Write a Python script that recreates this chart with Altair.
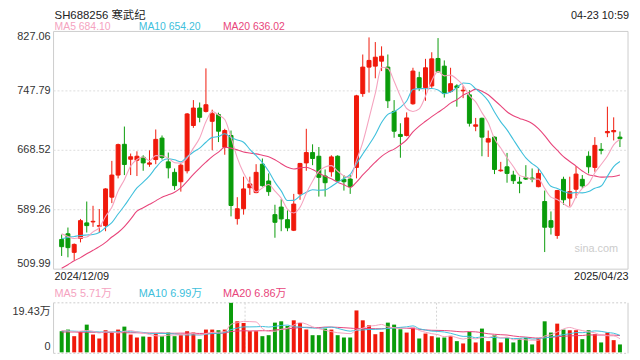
import altair as alt
import pandas as pd

# ---------------- data ----------------
opens = [549.6, 557.2, 532.4, 550.9, 571.7, 573.0, 567.2, 568.1, 606.0, 635.5,
         676.5, 656.6, 655.3, 659.3, 650.0, 656.2, 684.8, 653.1, 639.1, 626.6,
         641.2, 701.6, 724.9, 720.4, 707.2, 716.1, 672.5, 688.3, 577.4, 590.6,
         618.7, 612.1, 650.0, 627.6, 582.7, 592.8, 576.0, 561.9, 610.4, 651.7,
         665.5, 660.6, 634.2, 639.9, 660.6, 629.8, 630.2, 645.7, 744.2, 779.5,
         780.8, 787.4, 779.5, 720.4, 689.7, 688.3, 730.6, 765.4, 752.2, 754.4,
         791.0, 780.8, 746.9, 754.4, 747.8, 742.5, 700.6, 711.2, 679.5, 686.1,
         641.2, 646.5, 635.5, 626.2, 631.9, 631.5, 620.0, 600.2, 574.7, 554.9,
         629.8, 604.7, 616.6, 629.8, 660.6, 645.7, 669.8, 691.9, 693.2, 686.1]
highs = [556.2, 565.5, 544.3, 577.0, 600.2, 594.5, 590.2, 617.9, 654.4, 677.4,
         700.2, 664.2, 667.2, 661.9, 668.5, 696.3, 688.3, 665.5, 644.3, 651.0,
         718.3, 735.5, 732.3, 777.8, 722.7, 718.7, 697.2, 694.9, 606.0, 633.3,
         633.3, 650.0, 657.6, 637.7, 595.9, 603.4, 588.3, 610.4, 651.7, 697.2,
         676.5, 672.9, 643.0, 661.9, 661.9, 635.5, 635.5, 742.5, 796.3, 819.1,
         812.9, 807.2, 796.3, 735.5, 704.6, 719.1, 778.6, 773.3, 790.5, 799.3,
         818.2, 788.4, 778.6, 756.6, 754.4, 748.7, 711.7, 712.1, 694.9, 687.0,
         653.1, 665.0, 641.2, 633.3, 648.7, 644.3, 644.3, 614.8, 587.0, 615.7,
         633.3, 633.3, 647.4, 635.5, 667.2, 686.1, 678.2, 726.7, 712.5, 693.6]
lows = [527.6, 525.8, 522.3, 545.7, 558.9, 566.4, 558.5, 560.6, 598.1, 631.1,
        635.5, 635.5, 634.2, 641.2, 646.5, 650.0, 656.2, 631.1, 615.7, 613.4,
        637.7, 698.5, 705.9, 719.0, 668.5, 679.5, 662.6, 580.4, 569.4, 582.7,
        609.1, 611.3, 620.0, 607.8, 551.9, 560.6, 560.6, 560.8, 602.5, 641.2,
        648.7, 606.8, 606.8, 633.3, 626.6, 614.8, 610.4, 631.1, 739.9, 745.5,
        764.6, 774.2, 724.9, 685.3, 658.6, 687.0, 729.3, 747.8, 734.6, 751.8,
        772.0, 738.9, 745.5, 726.7, 738.1, 700.2, 694.0, 660.6, 659.7, 636.8,
        639.9, 625.3, 623.6, 611.3, 628.9, 625.9, 619.2, 532.8, 556.2, 550.5,
        595.9, 593.6, 604.7, 617.9, 637.7, 639.9, 663.2, 686.1, 681.7, 672.9]
closes = [540.0, 538.7, 543.0, 574.7, 568.1, 573.8, 568.1, 617.0, 635.5, 676.1,
          649.6, 659.9, 660.6, 651.7, 651.7, 683.1, 658.9, 645.1, 621.4, 648.7,
          717.0, 724.9, 712.5, 729.3, 717.4, 694.0, 694.9, 594.9, 590.6, 617.0,
          623.6, 639.1, 621.4, 613.4, 572.5, 577.0, 565.1, 596.8, 651.0, 665.5,
          657.6, 632.5, 625.3, 659.7, 628.0, 626.6, 620.0, 741.2, 779.5, 788.4,
          792.7, 794.0, 734.6, 694.0, 687.0, 711.7, 774.2, 752.2, 778.6, 790.5,
          773.3, 744.2, 757.4, 752.2, 748.7, 704.6, 702.5, 686.1, 684.0, 643.0,
          642.1, 637.7, 628.0, 624.5, 630.2, 630.2, 637.7, 565.9, 565.9, 614.8,
          602.5, 613.4, 636.8, 621.0, 646.5, 675.1, 668.5, 693.6, 694.9, 684.0]
volumes = [8.29, 8.94, 6.35, 8.29, 10.88, 6.99, 5.44, 8.68, 8.03, 8.94,
           10.10, 6.99, 5.83, 6.22, 6.09, 7.38, 6.35, 7.77, 6.35, 6.74,
           8.29, 7.77, 5.18, 8.94, 8.94, 8.68, 8.94, 19.43, 12.18, 11.53,
           8.29, 8.29, 6.35, 6.74, 11.66, 12.18, 10.36, 12.57, 11.53, 8.94,
           6.74, 6.74, 9.33, 8.94, 6.74, 5.83, 5.83, 16.45, 12.57, 10.62,
           7.12, 8.03, 11.66, 10.88, 9.07, 7.77, 9.72, 5.44, 7.38, 6.35,
           5.83, 5.83, 6.48, 4.40, 3.50, 8.03, 3.89, 9.33, 4.40, 6.74,
           3.89, 5.70, 3.89, 5.44, 5.70, 3.11, 5.70, 12.18, 7.77, 11.27,
           8.94, 8.68, 8.68, 5.18, 8.68, 7.12, 3.89, 7.77, 4.79, 3.11]
ma5 = [557.2, 553.6, 550.9, 552.0, 552.9, 559.7, 565.5, 580.3, 592.5, 614.1,
       629.3, 647.6, 656.3, 659.6, 654.7, 661.4, 661.2, 658.1, 652.0, 651.4,
       658.2, 671.4, 684.9, 706.5, 720.2, 715.6, 709.6, 686.1, 658.4, 638.3,
       624.2, 613.0, 618.3, 622.9, 614.0, 604.7, 589.9, 585.0, 592.5, 611.1,
       627.2, 640.7, 646.4, 648.1, 640.6, 634.4, 631.9, 655.1, 679.1, 711.1,
       744.4, 779.2, 777.8, 760.7, 740.5, 724.3, 720.3, 723.8, 740.7, 761.4,
       773.8, 767.8, 768.8, 763.5, 755.2, 741.4, 733.1, 718.8, 705.2, 684.0,
       671.5, 658.6, 647.0, 635.1, 632.5, 630.1, 630.1, 617.7, 606.0, 602.9,
       597.4, 592.5, 606.7, 617.7, 624.0, 638.6, 649.6, 660.9, 675.7, 683.2]
ma10 = [550.5, 552.3, 553.6, 554.9, 555.6, 556.2, 558.9, 565.5, 572.0, 583.5,
        594.5, 606.6, 618.3, 626.0, 634.4, 645.3, 654.4, 657.2, 655.8, 653.1,
        659.8, 666.3, 671.5, 679.3, 685.8, 686.9, 690.5, 685.5, 682.4, 679.3,
        669.9, 661.3, 652.2, 640.6, 626.1, 614.4, 601.5, 601.7, 607.7, 612.5,
        615.9, 615.3, 615.7, 620.3, 625.9, 630.8, 636.3, 650.7, 663.6, 675.9,
        689.4, 705.5, 716.5, 719.9, 725.8, 734.3, 749.7, 750.8, 750.7, 751.0,
        749.0, 744.0, 746.3, 752.1, 758.3, 757.6, 750.4, 743.8, 734.4, 719.6,
        706.5, 695.8, 682.9, 670.1, 658.3, 650.8, 644.4, 632.3, 620.5, 617.7,
        613.7, 611.3, 612.2, 611.8, 613.5, 618.0, 621.0, 633.8, 646.7, 653.6]
ma20 = [511.3, 515.9, 521.2, 525.4, 530.5, 535.1, 540.0, 545.7, 552.9, 558.9,
        566.8, 576.7, 587.3, 591.9, 596.5, 601.1, 606.0, 609.1, 612.6, 618.3,
        627.1, 636.5, 644.9, 652.7, 660.1, 666.1, 672.5, 671.4, 669.1, 666.2,
        664.9, 663.8, 661.9, 660.0, 656.0, 650.7, 646.0, 643.6, 645.1, 645.9,
        642.9, 638.3, 634.0, 630.5, 626.0, 622.6, 618.9, 626.2, 635.6, 644.2,
        652.7, 660.4, 666.1, 670.1, 675.8, 682.6, 693.0, 700.8, 707.2, 713.4,
        719.2, 724.8, 731.4, 736.0, 742.1, 746.0, 750.1, 747.3, 742.6, 735.3,
        727.8, 719.9, 714.6, 711.1, 708.3, 704.2, 697.4, 688.1, 677.4, 668.7,
        660.1, 653.6, 647.5, 641.0, 635.9, 634.4, 632.7, 633.1, 633.6, 635.7]
vma5 = [8.6, 8.4, 8.0, 8.3, 8.55, 8.29, 7.59, 8.06, 8.00, 7.62,
        8.24, 8.55, 7.98, 7.62, 7.05, 6.50, 6.37, 6.76, 6.79, 6.92,
        7.10, 7.38, 6.87, 7.38, 7.82, 7.90, 8.14, 10.99, 11.63, 12.15,
        12.07, 11.94, 9.33, 8.24, 8.27, 9.04, 9.46, 10.70, 11.66, 11.12,
        10.03, 9.30, 8.66, 8.14, 7.70, 7.52, 7.33, 8.76, 9.48, 10.26,
        10.52, 10.96, 10.00, 9.66, 9.35, 9.48, 9.82, 8.58, 7.88, 7.33,
        6.94, 6.17, 6.37, 5.78, 5.21, 5.65, 5.26, 5.83, 5.83, 6.48,
        5.65, 6.01, 4.92, 5.13, 4.92, 4.77, 4.77, 6.43, 6.89, 8.01,
        9.17, 9.77, 9.07, 8.55, 8.03, 7.67, 6.71, 6.53, 6.45, 5.34]
vma10 = [8.4, 8.4, 8.3, 8.2, 8.2, 8.1, 8.0, 8.0, 8.0, 8.08,
         8.26, 8.07, 8.02, 7.81, 7.33, 7.37, 7.46, 7.37, 7.20, 6.98,
         6.80, 6.88, 6.81, 7.09, 7.37, 7.50, 7.76, 8.93, 9.51, 9.99,
         9.99, 10.04, 10.16, 9.94, 10.21, 10.56, 10.70, 10.02, 9.95, 9.69,
         9.54, 9.38, 9.68, 9.90, 9.41, 8.77, 8.32, 8.71, 8.81, 8.98,
         9.02, 9.15, 9.38, 9.57, 9.81, 10.00, 10.39, 9.29, 8.77, 8.34,
         8.21, 7.99, 7.48, 6.83, 6.27, 6.30, 5.71, 6.10, 5.80, 5.84,
         5.65, 5.64, 5.38, 5.48, 5.70, 5.21, 5.39, 5.68, 6.01, 6.47,
         6.97, 7.27, 7.75, 7.72, 8.02, 8.42, 8.24, 7.80, 7.50, 6.68]
vma20 = [8.0, 8.0, 8.0, 7.9, 7.9, 7.9, 7.8, 7.8, 7.8, 7.8,
         7.7, 7.7, 7.7, 7.6, 7.6, 7.6, 7.6, 7.5, 7.5, 7.53,
         7.53, 7.47, 7.42, 7.45, 7.35, 7.44, 7.61, 8.15, 8.36, 8.49,
         8.39, 8.46, 8.49, 8.51, 8.79, 9.03, 9.23, 9.47, 9.73, 9.84,
         9.76, 9.71, 9.92, 9.92, 9.81, 9.67, 9.51, 9.36, 9.38, 9.34,
         9.28, 9.26, 9.53, 9.74, 9.61, 9.39, 9.35, 9.00, 8.79, 8.66,
         8.62, 8.57, 8.43, 8.20, 8.04, 8.15, 8.05, 7.70, 7.29, 7.09,
         6.93, 6.81, 6.43, 6.15, 5.99, 5.75, 5.55, 5.89, 5.91, 6.15,
         6.31, 6.45, 6.56, 6.60, 6.86, 6.81, 6.81, 6.74, 6.76, 6.57]

price_ticks = [827.06, 747.79, 668.52, 589.26, 509.99]
price_tick_labels = ["827.06", "747.79", "668.52", "589.26", "509.99"]
vol_max = 19.43
first_date = "2024/12/09"
last_date = "2025/04/23"
title_text = "SH688256 寒武纪"
time_text = "04-23 10:59"
price_legend = [("MA5 684.10", "ma5"), ("MA10 654.20", "ma10"), ("MA20 636.02", "ma20")]
vol_legend = [("MA5 5.71万", "ma5"), ("MA10 6.99万", "ma10"), ("MA20 6.86万", "ma20")]

# ---------------- styling ----------------
RED = "#f0190b"
GREEN = "#0a9c0a"
MA_COLORS = {"ma5": "#f5a3bf", "ma10": "#40c0dc", "ma20": "#e8457b"}
FONT = "Liberation Sans, Arial, Noto Sans CJK SC, sans-serif"
W, H = 580, 324
PRICE_H = 240
VOL_TOP, VOL_BOT = 274, 324

n = len(closes)
df = pd.DataFrame({
    "i": list(range(n)), "open": opens, "high": highs, "low": lows, "close": closes,
    "vol": volumes, "ma5": ma5, "ma10": ma10, "ma20": ma20,
    "vma5": vma5, "vma10": vma10, "vma20": vma20,
})
df["dir"] = ["up" if c >= o else "down" for o, c in zip(opens, closes)]

xs = alt.Scale(domain=[-0.5, n - 0.5], nice=False, zero=False)
X = alt.X("i:Q", scale=xs, axis=None)
pscale = alt.Scale(domain=[price_ticks[-1], price_ticks[0]], range=[PRICE_H, 0], zero=False, nice=False)
vscale = alt.Scale(domain=[0, vol_max], range=[VOL_BOT, VOL_TOP], zero=True, nice=False)
dir_scale = alt.Scale(domain=["up", "down"], range=[RED, GREEN])

base = alt.Chart(df)
one = pd.DataFrame({"k": [0]})


def py(field):
    return alt.Y(f"{field}:Q", scale=pscale, axis=None)


def vy(field):
    return alt.Y(f"{field}:Q", scale=vscale, axis=None)


def txt(s, x, y, color="#333333", size=11, align="left", baseline="middle"):
    return alt.Chart(one).mark_text(
        text=s, align=align, baseline=baseline, fontSize=size, color=color, font=FONT
    ).encode(x=alt.value(x), y=alt.value(y))


layers = []

# main panel border
layers.append(alt.Chart(one).mark_rect(filled=False, stroke="#cccccc", strokeWidth=1).encode(
    x=alt.value(0), x2=alt.value(W), y=alt.value(0), y2=alt.value(PRICE_H)))

# price gridlines (dotted)
grid_df = pd.DataFrame({"v": price_ticks[1:-1]})
layers.append(alt.Chart(grid_df).mark_rule(color="#dddddd", strokeDash=[2, 2], strokeWidth=1).encode(
    y=py("v"), x=alt.value(0), x2=alt.value(W)))

# sina watermark
layers.append(txt("sina.com", 548, 220, color="#cccccc", size=11, align="center"))

# candle wicks and bodies
layers.append(base.mark_rule(strokeWidth=1).encode(
    x=X, y=py("low"), y2="high:Q",
    color=alt.Color("dir:N", scale=dir_scale, legend=None)))
layers.append(base.mark_bar(size=4, strokeWidth=1).encode(
    x=X, y=py("open"), y2="close:Q",
    color=alt.Color("dir:N", scale=dir_scale, legend=None),
    stroke=alt.Stroke("dir:N", scale=dir_scale, legend=None)))

# price moving averages
for key in ["ma20", "ma10", "ma5"]:
    layers.append(base.mark_line(color=MA_COLORS[key], strokeWidth=1.1, interpolate="monotone").encode(
        x=X, y=py(key)))

# volume panel frame
layers.append(alt.Chart(one).mark_rule(color="#cccccc", strokeDash=[2, 2]).encode(
    x=alt.value(0), x2=alt.value(W), y=alt.value(VOL_TOP)))
layers.append(alt.Chart(one).mark_rule(color="#cccccc", strokeDash=[2, 2]).encode(
    x=alt.value(0), x2=alt.value(W), y=alt.value(VOL_BOT + 1)))
for xv in [W / 3, 2 * W / 3]:
    layers.append(alt.Chart(one).mark_rule(color="#d5d5d5", strokeDash=[2, 2]).encode(
        x=alt.value(xv), y=alt.value(VOL_TOP), y2=alt.value(VOL_BOT)))
for xv in [0, W]:
    layers.append(alt.Chart(one).mark_rule(color="#cccccc").encode(
        x=alt.value(xv), y=alt.value(VOL_TOP), y2=alt.value(VOL_BOT + 1)))

# volume bars
layers.append(base.mark_bar(size=4).encode(
    x=X, y=vy("vol"),
    color=alt.Color("dir:N", scale=dir_scale, legend=None)))
for key in ["vma20", "vma10", "vma5"]:
    layers.append(base.mark_line(color=MA_COLORS[key[1:]], strokeWidth=1, interpolate="monotone").encode(
        x=X, y=vy(key)))

# price axis labels
tick_df = pd.DataFrame({"v": price_ticks, "t": price_tick_labels})
for sel, bl in [(tick_df.iloc[:1], "top"), (tick_df.iloc[1:-1], "middle"), (tick_df.iloc[-1:], "bottom")]:
    layers.append(alt.Chart(sel).mark_text(align="right", baseline=bl, fontSize=11, color="#333333", font=FONT).encode(
        y=py("v"), x=alt.value(-3), text="t:N"))

# volume axis labels
layers.append(txt(f"{vol_max}万", -3, VOL_TOP + 3.5, align="right", baseline="top"))
layers.append(txt("0", -3, VOL_BOT, align="right", baseline="bottom"))

# header texts (the page margin keeps them slightly lower than the original)
layers.append(txt(title_text, 1, -22, color="#222222", size=11.5, baseline="top"))
layers.append(txt(time_text, 581, -22, color="#222222", size=11, align="right", baseline="top"))
for (s, key), xv in zip(price_legend, [1, 86, 171]):
    layers.append(txt(s, xv, -4.5, color=MA_COLORS[key], size=10.5))
for (s, key), xv in zip(vol_legend, [1, 86, 171]):
    layers.append(txt(s, xv, 265, color=MA_COLORS[key], size=11))

# date labels
layers.append(txt(first_date, 1, 247.5, color="#222222"))
layers.append(txt(last_date, 580.5, 247.5, color="#222222", align="right"))

chart = alt.layer(*layers).resolve_scale(y="independent", color="independent", stroke="independent").properties(
    width=W, height=H,
    padding={"left": 46, "top": 22, "right": 4, "bottom": 2},
    autosize=alt.AutoSizeParams(type="none"),
    background="white",
).configure_view(stroke=None)

chart.save("out.html", embed_options={"renderer": "svg", "actions": False})
